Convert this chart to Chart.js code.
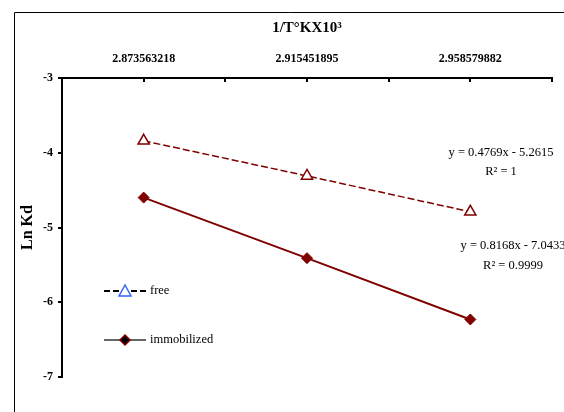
<!DOCTYPE html>
<html>
<head>
<meta charset="utf-8">
<script src="https://cdn.jsdelivr.net/npm/chart.js@4/dist/chart.umd.min.js"></script>
<style>
  html, body { margin: 0; padding: 0; background: #ffffff; }
  #wrap { width: 564px; height: 412px; }
</style>
</head>
<body>
<div id="wrap"><canvas id="c" width="564" height="412"></canvas></div>
<script>
// 1/T (K) x 10^3 categories along the top axis
const categories = ['2.873563218', '2.915451895', '2.958579882'];
// Ln Kd values
const freeValues = [-3.84, -4.31, -4.79];
const immobilizedValues = [-4.60, -5.41, -6.23];
const yTicks = [-3, -4, -5, -6, -7];
// Trendline annotations
const freeFit = ['y = 0.4769x - 5.2615', 'R\u00B2 = 1'];
const immobilizedFit = ['y = 0.8168x - 7.0433', 'R\u00B2 = 0.9999'];

const MAROON = '#800000';
const SERIF = '"Liberation Serif", "Times New Roman", serif';

const toPoints = vals => vals.map((v, i) => ({ x: i + 1, y: v }));

// Frame, inner tick marks of the top axis, legend and fit equations
const decorations = {
  id: 'decorations',
  beforeDraw(chart) {
    const ctx = chart.ctx;
    ctx.save();
    ctx.fillStyle = '#ffffff';
    ctx.fillRect(0, 0, chart.width, chart.height);
    ctx.strokeStyle = '#000000';
    ctx.lineWidth = 1;
    ctx.beginPath();
    ctx.moveTo(14.5, chart.height + 1);
    ctx.lineTo(14.5, 12.5);
    ctx.lineTo(chart.width + 1, 12.5);
    ctx.stroke();
    ctx.restore();
  },
  afterDraw(chart) {
    const ctx = chart.ctx;
    const xs = chart.scales.x;
    const top = chart.chartArea.top;
    ctx.save();
    // tick marks pointing into the plot
    ctx.strokeStyle = '#000000';
    ctx.lineWidth = 2;
    xs.ticks.forEach(t => {
      const px = Math.round(xs.getPixelForValue(t.value));
      if (px <= chart.chartArea.left + 1) return;
      ctx.beginPath();
      ctx.moveTo(px, top);
      ctx.lineTo(px, top + 4);
      ctx.stroke();
    });

    // legend
    const lx0 = 104, lx1 = 146, mx = 125;
    ctx.font = '12.5px ' + SERIF;
    ctx.textBaseline = 'middle';
    ctx.textAlign = 'left';
    // free
    let ly = 291;
    ctx.strokeStyle = '#000000';
    ctx.lineWidth = 2;
    ctx.setLineDash([6, 3]);
    ctx.beginPath(); ctx.moveTo(lx0, ly); ctx.lineTo(lx1, ly); ctx.stroke();
    ctx.setLineDash([]);
    ctx.fillStyle = '#ffffff';
    ctx.strokeStyle = '#3366ff';
    ctx.lineWidth = 1.5;
    ctx.beginPath();
    ctx.moveTo(mx, ly - 6); ctx.lineTo(mx + 6, ly + 5); ctx.lineTo(mx - 6, ly + 5); ctx.closePath();
    ctx.fill(); ctx.stroke();
    ctx.fillStyle = '#000000';
    ctx.fillText(chart.data.datasets[0].label, 150, ly);
    // immobilized
    ly = 340;
    ctx.strokeStyle = '#666666';
    ctx.lineWidth = 2;
    ctx.beginPath(); ctx.moveTo(lx0, ly); ctx.lineTo(lx1, ly); ctx.stroke();
    ctx.fillStyle = '#000000';
    ctx.strokeStyle = MAROON;
    ctx.lineWidth = 1.5;
    ctx.beginPath();
    ctx.moveTo(mx, ly - 5); ctx.lineTo(mx + 5, ly); ctx.lineTo(mx, ly + 5); ctx.lineTo(mx - 5, ly); ctx.closePath();
    ctx.fill(); ctx.stroke();
    ctx.fillStyle = '#000000';
    ctx.fillText(chart.data.datasets[1].label, 150, ly);

    // trendline equations
    ctx.textAlign = 'center';
    ctx.fillText(freeFit[0], 501, 153);
    ctx.fillText(freeFit[1], 501, 172);
    ctx.fillText(immobilizedFit[0], 513, 246);
    ctx.fillText(immobilizedFit[1], 513, 266);
    ctx.restore();
  }
};

new Chart(document.getElementById('c'), {
  type: 'line',
  data: {
    datasets: [
      {
        label: 'free',
        data: toPoints(freeValues),
        borderColor: MAROON,
        borderWidth: 1.5,
        borderDash: [7, 3],
        pointStyle: 'triangle',
        pointRadius: 6.5,
        pointBackgroundColor: '#ffffff',
        pointBorderColor: MAROON,
        pointBorderWidth: 1.5,
        tension: 0
      },
      {
        label: 'immobilized',
        data: toPoints(immobilizedValues),
        borderColor: MAROON,
        borderWidth: 2,
        pointStyle: 'rectRot',
        pointRadius: 5.5,
        pointBackgroundColor: MAROON,
        pointBorderColor: MAROON,
        pointBorderWidth: 1,
        tension: 0
      }
    ]
  },
  options: {
    responsive: false,
    animation: false,
    devicePixelRatio: 1,
    layout: { padding: { left: 0, top: 0, right: 10, bottom: 35 } },
    plugins: {
      legend: { display: false },
      tooltip: { enabled: false }
    },
    scales: {
      x: {
        type: 'linear',
        position: 'top',
        min: 0.5,
        max: 3.5,
        afterBuildTicks(scale) {
          const t = [];
          for (let v = 0.5; v <= 3.5 + 1e-9; v += 0.5) t.push({ value: v });
          scale.ticks = t;
        },
        afterFit(scale) { scale.height = 78; },
        border: { display: true, color: '#000000', width: 2 },
        grid: { display: true, drawOnChartArea: false, drawTicks: false },
        ticks: {
          autoSkip: false,
          maxRotation: 0,
          padding: 12,
          color: '#000000',
          font: { family: SERIF, size: 12, weight: 'bold' },
          callback: v => (Number.isInteger(v) ? categories[v - 1] : '')
        },
        title: {
          display: true,
          text: '1/T\u00B0KX10\u00B3',
          color: '#000000',
          padding: { top: 19, bottom: 0 },
          font: { family: SERIF, size: 15, weight: 'bold' }
        }
      },
      y: {
        min: -7,
        max: -3,
        afterBuildTicks(scale) { scale.ticks = yTicks.map(v => ({ value: v })); },
        afterFit(scale) { scale.width = 62; },
        border: { display: true, color: '#000000', width: 2 },
        grid: { display: true, drawOnChartArea: false, drawTicks: true, tickLength: 4, color: '#000000', lineWidth: 2 },
        ticks: {
          padding: 5,
          color: '#000000',
          font: { family: SERIF, size: 12, weight: 'bold' }
        },
        title: {
          display: true,
          text: 'Ln Kd',
          color: '#000000',
          padding: { top: 18, bottom: 0 },
          font: { family: SERIF, size: 16, weight: 'bold' }
        }
      }
    }
  },
  plugins: [decorations]
});
</script>
</body>
</html>
